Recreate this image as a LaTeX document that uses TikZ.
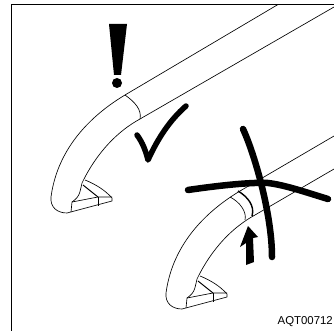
\documentclass[tikz,border=0pt]{standalone}
\usepackage{fontspec}
\setmainfont{Liberation Sans}
\usetikzlibrary{positioning,arrows.meta}
\tikzset{
  railline/.style={line width=0.65pt,line join=round},
  crossline/.style={line width=6.5pt,line cap=round},
}
% #1, #2: where the two long edges of the rail stop
\newcommand{\railshape}[2]{
  \draw[railline] #1 -- (125,95) .. controls (95,113) and (58,145) .. (51,197)
    .. controls (50,207) and (57,213) .. (67,213) -- (112,201) -- (112,198)
    .. controls (105,190) and (95,184) .. (85,180);
  \draw[railline] #2 -- (140,119) .. controls (118,131) and (97,152) .. (82,183)
    .. controls (80,190) and (81,196) .. (72,202) -- (71,212);
  \draw[railline] (72,202) -- (98,197) -- (112,197);
  \draw[railline] (98,197) -- (98,206);
  \draw[line width=1pt] (83,185) -- (98,197);
}
\begin{document}
\begin{tikzpicture}[x=1pt,y=-1pt]
\useasboundingbox (0,0) rectangle (334,331);
\draw[line width=1pt] (11.5,331) -- (11.5,4.5) -- (334,4.5);
% upper rail
\railshape{(278,4.5)}{(334,7)}
\draw[railline] (125,95) .. controls (135,102) and (142,110) .. (140,119);
\fill (109,24) -- (127,24) -- (121,75) -- (114,75) -- cycle;
\fill (117,83) circle (5);
\draw[line width=5.5pt,line cap=round,line join=round] (137,135) .. controls (143,143) and (146,152) .. (148,160)
  .. controls (158,138) and (170,120) .. (186,106);
% lower rail
\begin{scope}[shift={(115,96)}]
\railshape{(219,40)}{(219,73)}
\end{scope}
\draw[railline] (230,197) .. controls (240,202) and (247,212) .. (245,220);
\draw[line width=1.4pt] (238,191) .. controls (248,197) and (255,206) .. (252,216);
\fill (248,226) -- (258,237) -- (253,238) -- (254,262) -- (246,265) -- (246,243) -- (240,247) -- cycle;
\draw[crossline] (243,129) .. controls (255,155) and (272,215) .. (272,257);
\draw[crossline] (188,190) .. controls (215,186) and (250,182) .. (268,183)
  .. controls (285,185) and (305,192) .. (328,199);
\node[font=\fontsize{11.4}{12}\selectfont,anchor=base east,inner sep=0pt] (code) at (333,324) {AQT00712};
\end{tikzpicture}
\end{document}
